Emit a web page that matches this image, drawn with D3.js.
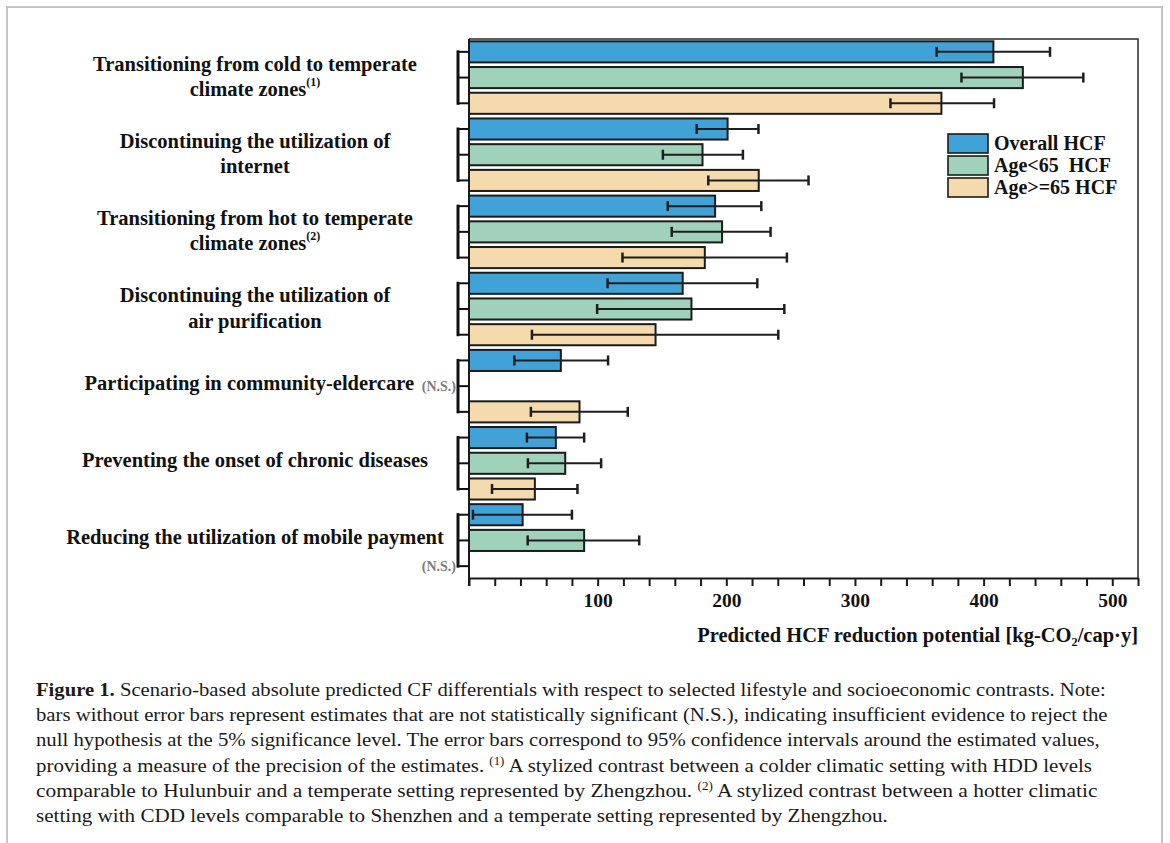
<!DOCTYPE html>
<html>
<head>
<meta charset="utf-8">
<script src="https://cdn.jsdelivr.net/npm/d3@7/dist/d3.min.js"></script>
<style>
  html, body { margin: 0; padding: 0; background: #ffffff; }
  svg { display: block; }
</style>
</head>
<body>
<svg id="fig" width="1170" height="843"></svg>
<script>
// ---- data -----------------------------------------------------------
const categories = [
  ["Transitioning from cold to temperate", "climate zones"],
  ["Discontinuing the utilization of", "internet"],
  ["Transitioning from hot to temperate", "climate zones"],
  ["Discontinuing the utilization of", "air purification"],
  ["Participating in community-eldercare"],
  ["Preventing the onset of chronic diseases"],
  ["Reducing the utilization of mobile payment"]
];
const footnoteMarks = ["(1)", "", "(2)", "", "", "", ""];

const seriesNames = ["Overall HCF", "Age<65  HCF", "Age>=65 HCF"];
const seriesColors = ["#41a2d8", "#a0d1ba", "#f4daad"];

// point estimates (null = not significant, no bar drawn)
const overall   = [407.6, 201.0, 191.3, 166.1, 71.4, 67.5, 41.7];
const under65   = [430.5, 181.5, 196.7, 172.9, null, 74.8, 89.5];
const over65    = [367.2, 225.2, 183.3, 145.0, 85.9, 51.2, null];
// 95% confidence bounds
const overallLo = [363.5, 177.0, 154.5, 107.7, 35.2, 45.0, 3.1];
const overallHi = [451.6, 225.0, 227.2, 224.1, 108.1, 89.5, 80.0];
const under65Lo = [382.8, 150.7, 157.6, 99.6, null, 45.8, 45.6];
const under65Hi = [477.5, 212.9, 234.4, 245.1, null, 102.7, 132.3];
const over65Lo  = [327.6, 186.0, 119.3, 48.9, 48.1, 17.9, null];
const over65Hi  = [408.1, 263.9, 247.1, 240.4, 123.4, 84.3, null];

const xTicks = [0, 20, 40, 60, 80, 100, 120, 140, 160, 180, 200, 220, 240, 260,
                280, 300, 320, 340, 360, 380, 400, 420, 440, 460, 480, 500, 520];
const xTickLabels = [100, 200, 300, 400, 500];
const xTitle = "Predicted HCF reduction potential [kg-CO\u2082/cap\u00b7y]";
const nsText = "(N.S.)";

const captionLines = [
  [{t: "Figure 1.", b: true}, {t: " Scenario-based absolute predicted CF differentials with respect to selected lifestyle and socioeconomic contrasts. Note:"}],
  [{t: "bars without error bars represent estimates that are not statistically significant (N.S.), indicating insufficient evidence to reject the"}],
  [{t: "null hypothesis at the 5% significance level. The error bars correspond to 95% confidence intervals around the estimated values,"}],
  [{t: "providing a measure of the precision of the estimates. "}, {t: "(1)", sup: true}, {t: " A stylized contrast between a colder climatic setting with HDD levels"}],
  [{t: "comparable to Hulunbuir and a temperate setting represented by Zhengzhou. "}, {t: "(2)", sup: true}, {t: " A stylized contrast between a hotter climatic"}],
  [{t: "setting with CDD levels comparable to Shenzhen and a temperate setting represented by Zhengzhou."}]
];
const captionRightEdges = [1106, 1108, 1100, 1093, 1098, 888];

// ---- layout ---------------------------------------------------------
const svg = d3.select("#fig");
const serif = "'Liberation Serif', 'Times New Roman', serif";
const plot = {left: 469, right: 1138, top: 39, bottom: 579};

const seriesVals = [overall, under65, over65];
const seriesLo = [overallLo, under65Lo, over65Lo];
const seriesHi = [overallHi, under65Hi, over65Hi];

const rows = [];
categories.forEach((c, g) => {
  seriesNames.forEach((s, k) => {
    rows.push({g, k, slot: g * 3 + k, v: seriesVals[k][g], lo: seriesLo[k][g], hi: seriesHi[k][g]});
  });
});

const x = d3.scaleLinear().domain([0, 520]).range([plot.left, plot.right]);
const y = d3.scaleBand().domain(d3.range(rows.length))
  .range([plot.top, plot.bottom]).paddingInner(0.18).paddingOuter(0.09);
const yc = i => y(i) + y.bandwidth() / 2;

// outer figure border
svg.append("path")
  .attr("d", "M7,843 V7 H1162 V843")
  .attr("fill", "none").attr("stroke", "#c4c4c4").attr("stroke-width", 2);

// plot frame (top and right)
svg.append("path")
  .attr("d", `M${plot.left},${plot.top} H${plot.right} V${plot.bottom - 1}`)
  .attr("fill", "none").attr("stroke", "#2a2a2a").attr("stroke-width", 1.5);

// bars
svg.append("g").selectAll("rect")
  .data(rows.filter(d => d.v != null))
  .join("rect")
  .attr("x", x(0))
  .attr("y", d => y(d.slot))
  .attr("width", d => x(d.v) - x(0))
  .attr("height", y.bandwidth())
  .attr("fill", d => seriesColors[d.k])
  .attr("stroke", "#1b1b1b").attr("stroke-width", 2);

// error bars
const eb = svg.append("g").attr("stroke", "#1e1e1e");
const ebRows = rows.filter(d => d.v != null && d.lo != null);
eb.selectAll("line.span").data(ebRows).join("line").attr("class", "span")
  .attr("x1", d => x(d.lo)).attr("x2", d => x(d.hi))
  .attr("y1", d => yc(d.slot)).attr("y2", d => yc(d.slot))
  .attr("stroke-width", 2);
["lo", "hi"].forEach(end => {
  eb.selectAll("line.cap-" + end).data(ebRows).join("line").attr("class", "cap-" + end)
    .attr("x1", d => x(d[end])).attr("x2", d => x(d[end]))
    .attr("y1", d => yc(d.slot) - 5).attr("y2", d => yc(d.slot) + 5)
    .attr("stroke-width", 2.5);
});

// x axis
const xAxis = d3.axisBottom(x)
  .tickValues(xTicks)
  .tickFormat(d => xTickLabels.includes(d) ? d : "")
  .tickSize(8).tickPadding(7).tickSizeOuter(0);
const gx = svg.append("g").attr("transform", `translate(0,${plot.bottom - 1})`).call(xAxis);
gx.select(".domain").attr("stroke", "#1a1a1a").attr("stroke-width", 2);
gx.selectAll(".tick line").attr("stroke", "#1a1a1a").attr("stroke-width", 2);
gx.selectAll(".tick text")
  .attr("font-family", serif).attr("font-weight", "bold").attr("font-size", 19.5).attr("fill", "#111");

// axis title
svg.append("text")
  .attr("x", plot.right).attr("y", 642)
  .attr("text-anchor", "end")
  .attr("font-family", serif).attr("font-weight", "bold").attr("font-size", 20.5).attr("fill", "#111")
  .text(xTitle);

// left axis line
svg.append("line")
  .attr("x1", plot.left).attr("x2", plot.left)
  .attr("y1", plot.top).attr("y2", plot.bottom + 7)
  .attr("stroke", "#1a1a1a").attr("stroke-width", 2);

// group brackets and row stubs
const bx = plot.left - 11;
const br = svg.append("g").attr("stroke", "#111");
categories.forEach((c, g) => {
  br.append("line")
    .attr("x1", bx).attr("x2", bx)
    .attr("y1", yc(g * 3) - 1.5).attr("y2", yc(g * 3 + 2) + 1.5)
    .attr("stroke-width", 3);
});
br.selectAll("line.stub").data(rows).join("line").attr("class", "stub")
  .attr("x1", bx).attr("x2", plot.left)
  .attr("y1", d => yc(d.slot)).attr("y2", d => yc(d.slot))
  .attr("stroke-width", 2);

// N.S. markers on empty rows
svg.append("g").selectAll("text")
  .data(rows.filter(d => d.v == null))
  .join("text")
  .attr("x", bx - 2).attr("y", d => yc(d.slot) + 4.5)
  .attr("text-anchor", "end")
  .attr("font-family", serif).attr("font-weight", "bold").attr("font-size", 14)
  .attr("fill", "#7a7a7a")
  .text(nsText);

// category labels
const labelX = 255;
categories.forEach((lines, g) => {
  const center = yc(g * 3 + 1);
  const middleNS = rows[g * 3 + 1].v == null;
  const t = svg.append("text")
    .attr("font-family", serif).attr("font-weight", "bold").attr("font-size", 20.5)
    .attr("fill", "#111")
    .attr("text-anchor", middleNS ? "end" : "middle");
  const xx = middleNS ? bx - 2 - 36 - 6 : labelX;
  lines.forEach((line, i) => {
    const base = lines.length === 1 ? center + 4 : center - 7 + i * 25.5;
    t.append("tspan").attr("x", xx).attr("y", base).text(line);
    if (i === lines.length - 1 && footnoteMarks[g]) {
      t.append("tspan").attr("dy", -10).attr("font-size", 12).text(footnoteMarks[g]);
    }
  });
});

// legend
const lg = svg.append("g").attr("transform", "translate(948,134)");
seriesNames.forEach((s, k) => {
  lg.append("rect")
    .attr("x", 0).attr("y", k * 22).attr("width", 40).attr("height", 19)
    .attr("fill", seriesColors[k]).attr("stroke", "#1b1b1b").attr("stroke-width", 1.6);
  lg.append("text")
    .attr("x", 46).attr("y", k * 22 + 16)
    .attr("font-family", serif).attr("font-weight", "bold").attr("font-size", 20)
    .attr("fill", "#111").style("white-space", "pre")
    .text(s);
});

// caption
const capX = 36, capY0 = 696, capStep = 25.2;
captionLines.forEach((parts, i) => {
  const t = svg.append("text")
    .attr("font-family", serif).attr("font-size", 19.5).attr("fill", "#1a1a1a")
    .style("white-space", "pre");
  parts.forEach(p => {
    const ts = t.append("tspan").text(p.t);
    if (p.b) ts.attr("font-weight", "bold");
    if (p.sup) ts.attr("font-size", 12).attr("baseline-shift", "super");
  });
  const w = t.node().getComputedTextLength();
  const sx = (captionRightEdges[i] - capX) / w;
  t.attr("transform", `translate(${capX},${capY0 + i * capStep}) scale(${sx},1)`);
});
</script>
</body>
</html>
